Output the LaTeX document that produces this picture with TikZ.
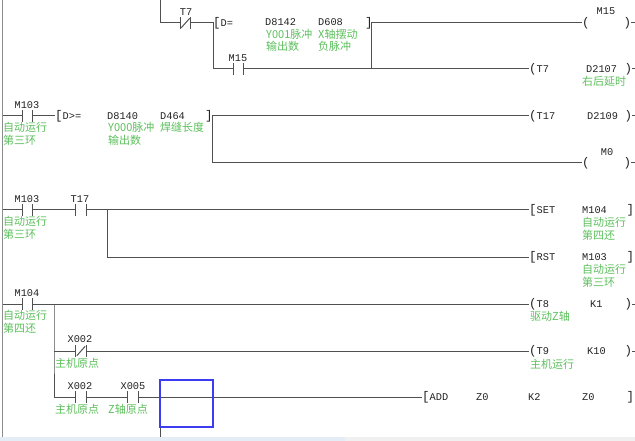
\documentclass[tikz,border=0pt]{standalone}
\usepackage{fontspec}
\setmonofont{Liberation Mono}
\newfontfamily\cjk{Noto Sans CJK SC}
\newcommand{\bk}[1]{{\fontsize{12.5}{12.5}\selectfont #1}}
\definecolor{ladgray}{HTML}{505050}
\definecolor{railgray}{HTML}{8C8C8C}
\definecolor{txtblack}{HTML}{222222}
\definecolor{lgreen}{HTML}{5CBF5C}
\definecolor{selblue}{HTML}{3C3CF0}
\definecolor{stripblue}{HTML}{E4ECF6}
\definecolor{stripgray}{HTML}{F0F0F0}
\begin{document}
\begin{tikzpicture}[x=1pt,y=-1pt,
  lad/.style={draw=ladgray, line width=1pt},
  rail/.style={draw=railgray, line width=1.2pt},
  txt/.style={inner sep=0pt, anchor=west, font=\ttfamily\fontsize{10.3}{10.3}\selectfont, text=txtblack},
  lbl/.style={inner sep=0pt, font=\ttfamily\fontsize{10.3}{10.3}\selectfont, text=txtblack},
  cn/.style={inner sep=0pt, anchor=west, font=\cjk\fontsize{11}{11}\selectfont, text=lgreen},
  cno/.style={minimum width=10pt, minimum height=11pt, inner sep=0pt,
    append after command={(\tikzlastnode.north west) edge[lad] (\tikzlastnode.south west)
      (\tikzlastnode.north east) edge[lad] (\tikzlastnode.south east)}},
  cnc/.style={cno, append after command={([shift={(1,-1)}]\tikzlastnode.south west) edge[lad] ([shift={(-1,1)}]\tikzlastnode.north east)}},
  selbox/.style={draw=selblue, line width=1.2pt}
]
\useasboundingbox (0,0) rectangle (635,441);
% bottom strip
\fill[stripblue] (0,437) rectangle (345,441);
\fill[stripgray] (345,437) rectangle (635,441);
% left rail
\coordinate (railtop) at (2.5,0);
\coordinate (railbot) at (2.5,437);
\draw[rail] (railtop) -- (railbot);

% ---------- rung 1 ----------
\coordinate (top1) at (160,0);
\coordinate (j1) at (160,23);
\node[cnc] (t7c) at (185.5,23) {};
\node[lbl] (t7l) at (186,12) {T7};
\coordinate (j2) at (213,23);
\coordinate (j3) at (213,69);
\node[txt] (deq) at (213,23) {\bk{[}D=};
\node[txt] (d8142) at (265,22) {D8142};
\node[cn] (g1a) at (266,34) {Y001脉冲};
\node[cn] (g1b) at (266,46) {输出数};
\node[txt] (d608) at (318,22) {D608};
\node[cn] (g2a) at (318,34) {X轴摆动};
\node[cn] (g2b) at (318,46) {负脉冲};
\node[txt] (deqr) at (365,23) {\bk{]}};
\coordinate (j4) at (371,23);
\coordinate (j5) at (371,69);
\node[cno] (m15c) at (238.5,69) {};
\node[lbl] (m15l) at (238,58) {M15};
\node[txt] (m15o) at (582,23) {\bk{(}};
\node[lbl] (m15n) at (606,11) {M15};
\node[txt] (m15r) at (623.5,23) {\bk{)}};
\coordinate (e1) at (635,23);
\node[txt] (ct7) at (529,69) {\bk{(}T7};
\node[txt] (d2107) at (586,69) {D2107};
\node[txt] (ct7r) at (624.5,69) {\bk{)}};
\coordinate (e2) at (635,69);
\node[cn] (g3) at (582,81) {右后延时};
\draw[lad] (top1) -- (j1) -- (t7c.west);
\draw[lad] (t7c.east) -- (j2) -- (j3) -- (m15c.west);
\draw[lad] (m15c.east) -- (ct7.west);
\draw[lad] (j4) -- (m15o.west);
\draw[lad] (j4) -- (j5);
\draw[lad] (m15r.east) -- (e1);
\draw[lad] (ct7r.east) -- (e2);

% ---------- rung 2 ----------
\coordinate (r2) at (2.5,116);
\node[cno] (m103a) at (27.5,116) {};
\node[lbl] (m103al) at (27,105) {M103};
\node[cn] (g4a) at (3,127) {自动运行};
\node[cn] (g4b) at (3,140) {第三环};
\node[txt] (dge) at (55,116) {\bk{[}D>=};
\node[txt] (d8140) at (107,116) {D8140};
\node[cn] (g5a) at (108,127) {Y000脉冲};
\node[cn] (g5b) at (108,140) {输出数};
\node[txt] (d464) at (160,116) {D464};
\node[cn] (g6) at (160,127) {焊缝长度};
\node[txt] (dger) at (205,116) {\bk{]}};
\coordinate (j6) at (212,116);
\coordinate (j7) at (212,163);
\node[txt] (ct17) at (529,116) {\bk{(}T17};
\node[txt] (d2109) at (587,116) {D2109};
\node[txt] (ct17r) at (624.5,116) {\bk{)}};
\coordinate (e3) at (635,116);
\node[txt] (m0o) at (582,163) {\bk{(}};
\node[lbl] (m0n) at (607,152) {M0};
\node[txt] (m0r) at (623.5,163) {\bk{)}};
\coordinate (e4) at (635,163);
\draw[lad] (r2) -- (m103a.west);
\draw[lad] (m103a.east) -- (dge.west);
\draw[lad] (j6) -- (ct17.west);
\draw[lad] (j6) -- (j7) -- (m0o.west);
\draw[lad] (ct17r.east) -- (e3);
\draw[lad] (m0r.east) -- (e4);

% ---------- rung 3 ----------
\coordinate (r3) at (2.5,210);
\node[cno] (m103b) at (27.5,210) {};
\node[lbl] (m103bl) at (27,199) {M103};
\node[cn] (g7a) at (3,221) {自动运行};
\node[cn] (g7b) at (3,234) {第三环};
\node[cno] (t17c) at (81,210) {};
\node[lbl] (t17l) at (80,199) {T17};
\coordinate (j8) at (107,210);
\coordinate (j9) at (107,257);
\node[txt] (set) at (529,210) {\bk{[}SET};
\node[txt] (m104s) at (582,210) {M104};
\node[cn] (g8a) at (582,222) {自动运行};
\node[cn] (g8b) at (582,235) {第四还};
\node[txt] (setr) at (626.5,210) {\bk{]}};
\node[txt] (rst) at (529,257) {\bk{[}RST};
\node[txt] (m103r) at (582,257) {M103};
\node[cn] (g9a) at (582,269) {自动运行};
\node[cn] (g9b) at (582,282) {第三环};
\node[txt] (rstr) at (626.5,257) {\bk{]}};
\draw[lad] (r3) -- (m103b.west);
\draw[lad] (m103b.east) -- (t17c.west);
\draw[lad] (t17c.east) -- (set.west);
\draw[lad] (j8) -- (j9) -- (rst.west);

% ---------- rung 4 ----------
\coordinate (r4) at (2.5,304);
\node[cno] (m104c) at (27.5,304) {};
\node[lbl] (m104l) at (27,293) {M104};
\node[cn] (g10a) at (3,315) {自动运行};
\node[cn] (g10b) at (3,328) {第四还};
\coordinate (j10) at (54,304);
\coordinate (j11) at (54,351);
\coordinate (j12) at (54,397);
\node[txt] (ct8) at (529,304) {\bk{(}T8};
\node[txt] (k1) at (590,304) {K1};
\node[txt] (ct8r) at (624.5,304) {\bk{)}};
\coordinate (e5) at (635,304);
\node[cn] (g11) at (530,316) {驱动Z轴};
\node[cnc] (x002a) at (81,351) {};
\node[lbl] (x002al) at (80,339) {X002};
\node[cn] (g12) at (55,363) {主机原点};
\node[txt] (ct9) at (529,351) {\bk{(}T9};
\node[txt] (k10) at (587,351) {K10};
\node[txt] (ct9r) at (624.5,351) {\bk{)}};
\coordinate (e6) at (635,351);
\node[cn] (g13) at (530,364) {主机运行};
\node[cno] (x002b) at (81,397) {};
\node[lbl] (x002bl) at (80,386) {X002};
\node[cn] (g14) at (55,409) {主机原点};
\node[cno] (x005) at (133,397) {};
\node[lbl] (x005l) at (133,386) {X005};
\node[cn] (g15) at (108,409) {Z轴原点};
\node[txt] (add) at (422,397) {\bk{[}ADD};
\node[txt] (z0a) at (476,397) {Z0};
\node[txt] (k2) at (528,397) {K2};
\node[txt] (z0b) at (582,397) {Z0};
\node[txt] (addr) at (626.5,397) {\bk{]}};
\coordinate (b1) at (160,427);
\coordinate (b2) at (160,437);
\draw[lad] (r4) -- (m104c.west);
\draw[lad] (m104c.east) -- (ct8.west);
\draw[lad] (j10) -- (j11) -- (j12);
\draw[lad] (j11) -- (x002a.west);
\draw[lad] (x002a.east) -- (ct9.west);
\draw[lad] (j12) -- (x002b.west);
\draw[lad] (x002b.east) -- (x005.west);
\draw[lad] (x005.east) -- (add.west);
\draw[lad] (ct8r.east) -- (e5);
\draw[lad] (ct9r.east) -- (e6);
\draw[lad] (b1) -- (b2);
\draw[selbox] (160,380) rectangle (213,427);
\end{tikzpicture}
\end{document}
